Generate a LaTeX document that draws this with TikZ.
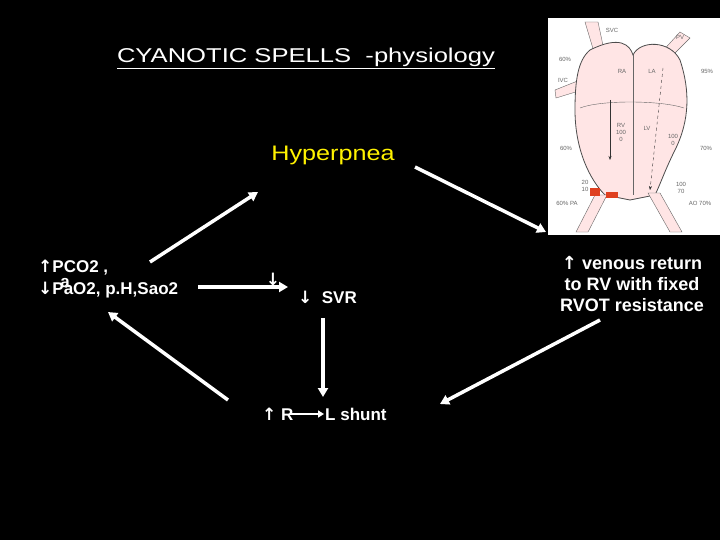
\documentclass[tikz,border=0pt]{standalone}
\usepackage{fontspec}
\setmainfont{Liberation Sans}
\newfontfamily\sym{DejaVu Sans}
\usetikzlibrary{arrows.meta}
\begin{document}
\begin{tikzpicture}[x=1pt,y=-1pt,
  lbl/.style={text=white,font=\bfseries\fontsize{17}{20}\selectfont,inner sep=0pt},
  conn/.style={draw=white,line width=3.5pt,-{Triangle[length=9pt,width=10pt]}},
  hl/.style={font=\fontsize{6}{7}\selectfont,text=black!60,inner sep=0pt},
  wall/.style={draw=black!70,line width=0.8pt,fill=pink!40}]
\fill[black] (0,0) rectangle (720,540);
\useasboundingbox (0,0) rectangle (720,540);
% title
\node[text=white,font=\fontsize{20}{24}\selectfont,inner sep=0pt] (title) at (306,58) {\scalebox{1.28}[1]{\underline{CYANOTIC SPELLS\ \ -physiology}}};
\node[text=yellow,font=\fontsize{21}{24}\selectfont] (hyp) at (333,155) {\scalebox{1.2}[1]{Hyperpnea}};
\node[lbl,anchor=west] (pco) at (38,268) {{\sym↑}PCO2 ,};
\node[lbl,anchor=west] (pao) at (38,290) {{\sym↓}PaO2, p.H,Sao2};
\node[lbl] (aa) at (65,283) {a};
\node[lbl] (dn) at (273,279) {\sym↓};
\node[lbl,anchor=west] (svr) at (298,297) {{\sym↓}\ \ SVR};
\node[lbl,anchor=west] (rr) at (262,414) {{\sym↑}\ R};
\node[lbl,anchor=west] (ls) at (325,414) {L shunt};
\node[lbl,align=center,font=\bfseries\fontsize{18}{21}\selectfont] (ven) at (632,284) {{\sym↑} venous return\\to RV with fixed\\RVOT resistance};
% connectors
\coordinate (a1s) at (150,262); \coordinate (a1e) at (258,192);
\coordinate (a2s) at (415,167); \coordinate (a2e) at (546,232);
\coordinate (a3s) at (600,320); \coordinate (a3e) at (440,404);
\coordinate (a4s) at (228,400); \coordinate (a4e) at (108,312);
\coordinate (a5s) at (198,287); \coordinate (a5e) at (288,287);
\coordinate (a6s) at (323,318); \coordinate (a6e) at (323,397);
\coordinate (a7s) at (290,414); \coordinate (a7e) at (324,414);
\draw[conn] (a1s) -- (a1e);
\draw[conn] (a2s) -- (a2e);
\draw[conn] (a3s) -- (a3e);
\draw[conn] (a4s) -- (a4e);
\draw[conn] (a5s) -- (a5e);
\draw[conn] (a6s) -- (a6e);
\draw[conn,line width=2.5pt,-{Triangle[length=6pt,width=7pt]}] (a7s) -- (a7e);
% heart picture
\fill[white] (548,18) rectangle (720,235);
\fill[pink!40,draw=black!60] (585,22) -- (598,22) -- (604,50) -- (594,52) -- cycle;
\fill[pink!40,draw=black!60] (555,90) -- (580,80) -- (582,90) -- (556,98) -- cycle;
\fill[pink!40,draw=black!60] (680,32) -- (690,38) -- (668,60) -- (660,54) -- cycle;
\draw[wall] (590,50) .. controls (620,35) and (630,45) .. (633,55) .. controls (640,40) and (670,40) .. (680,60)
  .. controls (690,90) and (690,120) .. (675,150) .. controls (665,170) and (660,185) .. (655,195)
  -- (630,200) -- (605,195) .. controls (590,180) and (575,150) .. (575,110) .. controls (575,80) and (578,60) .. (590,50) -- cycle;
\draw[black!60] (633,55) -- (633,195);
\draw[black!60] (580,108) .. controls (600,100) and (660,100) .. (684,108);
\fill[pink!40,draw=black!60] (595,195) -- (607,195) -- (588,232) -- (576,232) -- cycle;
\fill[pink!40,draw=black!60] (648,193) -- (660,193) -- (682,232) -- (670,232) -- cycle;
\fill[red!50!brown] (590,188) rectangle (600,196);
\fill[red!50!brown] (606,192) rectangle (618,198);
\draw[-{Stealth[length=4pt]},black!80] (610,100) -- (610,160);
\draw[dashed,black!80,-{Stealth[length=4pt]}] (663,68) -- (650,190);
\node[hl] (svc) at (612,30) {SVC};
\node[hl] (pv) at (680,37) {PV};
\node[hl] (p60) at (565,59) {60\%};
\node[hl] (p95) at (707,71) {95\%};
\node[hl] (ivc) at (563,80) {IVC};
\node[hl] (ra) at (622,71) {RA};
\node[hl] (la) at (652,71) {LA};
\node[hl,align=center] (rv) at (621,132) {RV\\100\\0};
\node[hl] (lv) at (647,128) {LV};
\node[hl,align=center] (lvp) at (673,140) {100\\0};
\node[hl] (p60b) at (566,148) {60\%};
\node[hl] (p70) at (706,148) {70\%};
\node[hl,align=center] (rvp) at (585,186) {20\\10};
\node[hl,align=center] (aop) at (681,188) {100\\70};
\node[hl] (pa) at (567,203) {60\% PA};
\node[hl] (ao) at (700,203) {AO 70\%};
\end{tikzpicture}
\end{document}
